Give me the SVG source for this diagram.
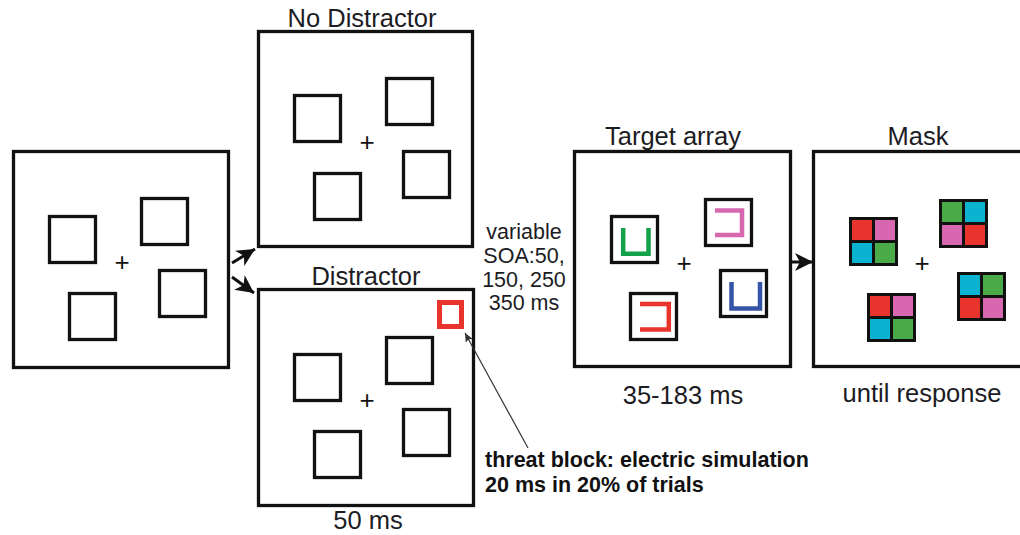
<svg xmlns="http://www.w3.org/2000/svg" width="1020" height="535" viewBox="0 0 1020 535">
<style>
.frame{fill:#fff;stroke:#111;stroke-width:3.3}
.sq{fill:#fff;stroke:#111;stroke-width:3.3}
.lbl{font-family:"Liberation Sans",Arial,sans-serif;font-size:25.5px;fill:#1c1c24;text-anchor:middle}
.soa{font-family:"Liberation Sans",Arial,sans-serif;font-size:21.5px;fill:#1c1c24;text-anchor:middle}
.bold{font-family:"Liberation Sans",Arial,sans-serif;font-size:21.5px;font-weight:bold;fill:#111}
.fix{font-family:"Liberation Sans",Arial,sans-serif;font-size:26px;fill:#111;text-anchor:middle}
.shape{fill:none;stroke-width:4.5;stroke-linecap:butt;stroke-linejoin:miter}
.conn{stroke:#111;stroke-width:3;fill:none}
.red{fill:#e8342c}.pink{fill:#d768b0}.cyan{fill:#0bb3d1}.green{fill:#4aaa47}
</style>
<defs>
<marker id="ah" markerUnits="userSpaceOnUse" markerWidth="20" markerHeight="18" refX="18" refY="9" orient="auto">
<path d="M0,0 L18,9 L0,18 L5,9 z" fill="#111"/>
</marker>
<marker id="ahs" markerUnits="userSpaceOnUse" markerWidth="10" markerHeight="8" refX="9" refY="4" orient="auto">
<path d="M0,0 L9,4 L0,8 L2,4 z" fill="#333"/>
</marker>
</defs>

<g id="fixation">
<rect class="frame" x="13.5" y="151.5" width="215" height="216"/>
<rect class="sq" x="49.5" y="216.5" width="46" height="46"/>
<rect class="sq" x="141.5" y="198.5" width="46" height="46"/>
<rect class="sq" x="69.5" y="293.5" width="46" height="46"/>
<rect class="sq" x="159.5" y="270.5" width="46" height="46"/>
<text class="fix" x="122" y="271">+</text>
</g>

<g id="no-distractor">
<text class="lbl" x="362" y="27">No Distractor</text>
<rect class="frame" x="258.5" y="31.5" width="214" height="215"/>
<rect class="sq" x="294.5" y="95.5" width="46" height="46"/>
<rect class="sq" x="386.5" y="78.5" width="46" height="46"/>
<rect class="sq" x="314.5" y="173.5" width="46" height="46"/>
<rect class="sq" x="403.5" y="151.5" width="46" height="46"/>
<text class="fix" x="367" y="151">+</text>
</g>

<g id="distractor">
<text class="lbl" x="366" y="285">Distractor</text>
<rect class="frame" x="258.5" y="289.5" width="215" height="216"/>
<rect x="439.5" y="302.5" width="22" height="24" fill="none" stroke="#e8342c" stroke-width="5"/>
<rect class="sq" x="294.5" y="354.5" width="46" height="46"/>
<rect class="sq" x="386.5" y="337.5" width="46" height="46"/>
<rect class="sq" x="314.5" y="431.5" width="46" height="46"/>
<rect class="sq" x="403.5" y="409.5" width="46" height="46"/>
<text class="fix" x="367" y="409">+</text>
<text class="lbl" x="368" y="529">50 ms</text>
</g>

<g id="soa-label">
<text class="soa" x="524" y="239">variable</text>
<text class="soa" x="524" y="263">SOA:50,</text>
<text class="soa" x="524" y="287">150, 250</text>
<text class="soa" x="524" y="310">350 ms</text>
</g>

<g id="target-array">
<text class="lbl" x="673" y="145">Target array</text>
<rect class="frame" x="574.5" y="151.5" width="216" height="215"/>
<rect class="sq" x="611.5" y="216.5" width="46" height="46"/>
<path class="shape" stroke="#13a14a" d="M623.2,228 V253.8 H648.5 V228"/>
<rect class="sq" x="705.5" y="199.5" width="46" height="46"/>
<path class="shape" stroke="#d768b0" d="M715,210.5 H742 V235 H715"/>
<rect class="sq" x="630.5" y="293.5" width="46" height="46"/>
<path class="shape" stroke="#e8342c" d="M640,304 H668.8 V329.5 H640"/>
<rect class="sq" x="720.5" y="270.5" width="46" height="46"/>
<path class="shape" stroke="#3454a8" d="M731.5,282 V308.5 H760 V282"/>
<text class="fix" x="684" y="272">+</text>
<text class="lbl" x="683" y="404">35-183 ms</text>
</g>

<g id="mask">
<text class="lbl" x="918" y="145">Mask</text>
<rect class="frame" x="813.5" y="151.5" width="230" height="215"/>
<g transform="translate(849,217)">
<rect width="49" height="49" fill="#111"/>
<rect class="red" x="3" y="3" width="20" height="20"/><rect class="pink" x="26" y="3" width="20" height="20"/>
<rect class="cyan" x="3" y="26" width="20" height="20"/><rect class="green" x="26" y="26" width="20" height="20"/>
</g>
<g transform="translate(939,199)">
<rect width="49" height="49" fill="#111"/>
<rect class="green" x="3" y="3" width="20" height="20"/><rect class="cyan" x="26" y="3" width="20" height="20"/>
<rect class="pink" x="3" y="26" width="20" height="20"/><rect class="red" x="26" y="26" width="20" height="20"/>
</g>
<g transform="translate(867,293)">
<rect width="49" height="49" fill="#111"/>
<rect class="red" x="3" y="3" width="20" height="20"/><rect class="pink" x="26" y="3" width="20" height="20"/>
<rect class="cyan" x="3" y="26" width="20" height="20"/><rect class="green" x="26" y="26" width="20" height="20"/>
</g>
<g transform="translate(957,272)">
<rect width="49" height="49" fill="#111"/>
<rect class="cyan" x="3" y="3" width="20" height="20"/><rect class="green" x="26" y="3" width="20" height="20"/>
<rect class="red" x="3" y="26" width="20" height="20"/><rect class="pink" x="26" y="26" width="20" height="20"/>
</g>
<text class="fix" x="922" y="272">+</text>
<text class="lbl" x="922" y="402">until response</text>
</g>

<g id="threat-label">
<text class="bold" x="485" y="467">threat block: electric simulation</text>
<text class="bold" x="485" y="492">20 ms in 20% of trials</text>
</g>

<g id="connectors">
<line class="conn" x1="232" y1="263" x2="255" y2="249" marker-end="url(#ah)"/>
<line class="conn" x1="232" y1="277" x2="254" y2="293" marker-end="url(#ah)"/>
<line class="conn" x1="792" y1="262" x2="813" y2="262" marker-end="url(#ah)"/>
<line x1="528" y1="448" x2="465" y2="333" stroke="#333" stroke-width="1.2" marker-end="url(#ahs)"/>
</g>
</svg>
